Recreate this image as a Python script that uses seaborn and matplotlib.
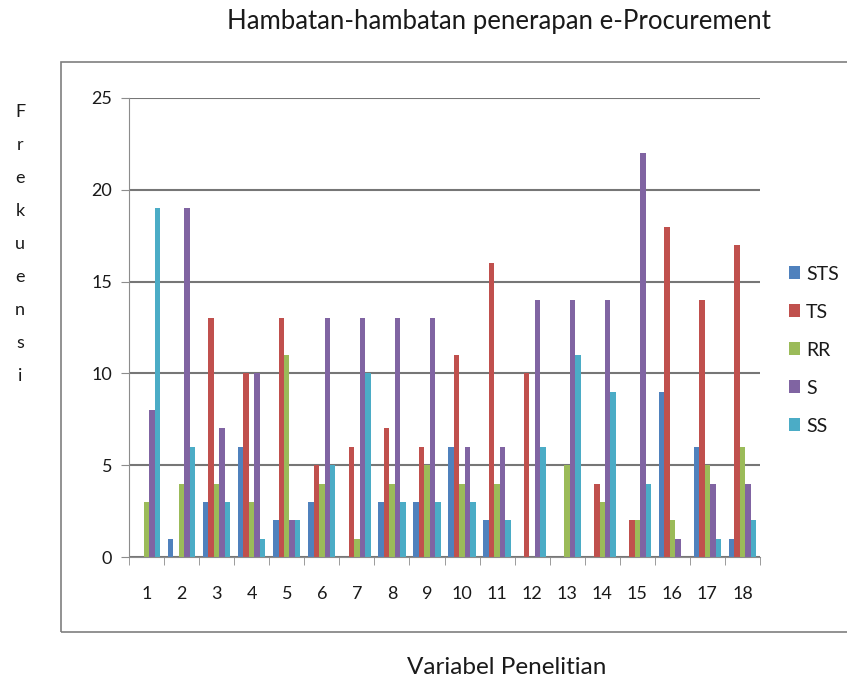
import matplotlib
matplotlib.use("Agg")
import matplotlib.pyplot as plt
import seaborn as sns
import pandas as pd
from matplotlib.patches import Rectangle

categories = [str(i) for i in range(1, 19)]
series = ["STS", "TS", "RR", "S", "SS"]
STS = [0, 1, 3, 6, 2, 3, 0, 3, 3, 6, 2, 0, 0, 0, 0, 9, 6, 1]
TS = [0, 0, 13, 10, 13, 5, 6, 7, 6, 11, 16, 10, 0, 4, 2, 18, 14, 17]
RR = [3, 4, 4, 3, 11, 4, 1, 4, 5, 4, 4, 0, 5, 3, 2, 2, 5, 6]
S = [8, 19, 7, 10, 2, 13, 13, 13, 13, 6, 6, 14, 14, 14, 22, 1, 4, 4]
SS = [19, 6, 3, 1, 2, 5, 10, 3, 3, 3, 2, 6, 11, 9, 4, 0, 1, 2]
yticks = [0, 5, 10, 15, 20, 25]

title = "Hambatan-hambatan penerapan e-Procurement"
xlabel = "Variabel Penelitian"
ylabel = "Frekuensi"

colors = ["#4F81BD", "#C0504D", "#9BBB59", "#8064A2", "#4BACC6"]

rows = []
for name, vals in zip(series, [STS, TS, RR, S, SS]):
    for c, v in zip(categories, vals):
        rows.append({"Variabel": c, "Kategori": name, "Frekuensi": v})
df = pd.DataFrame(rows)

sns.set_style("white")
plt.rcParams["font.family"] = ["Lato", "DejaVu Sans"]

fig = plt.figure(figsize=(8.47, 6.88), dpi=100)
W, H = 847, 688
ax = fig.add_axes([129 / W, 1 - 557 / H, 631 / W, 459 / H])

sns.barplot(data=df, x="Variabel", y="Frekuensi", hue="Kategori",
            order=categories, hue_order=series, palette=colors,
            width=0.78, gap=0, saturation=1, ax=ax, legend=True,
            edgecolor="none", errorbar=None)

ax.set_ylim(0, 25)
ax.set_xlim(-0.5, len(categories) - 0.5)
ax.set_yticks(yticks)
ax.set_yticklabels([str(t) for t in yticks])
ax.yaxis.grid(True, color="#767676", linewidth=1.5)
ax.set_axisbelow(True)
ax.set_xlabel("")
ax.set_ylabel("")
for s in ["top", "right"]:
    ax.spines[s].set_visible(False)
ax.spines["left"].set_color("#8c8c8c")
ax.spines["bottom"].set_color("#8c8c8c")
ax.tick_params(axis="x", length=0, labelsize=13, colors="#1a1a1a", pad=21)
ax.tick_params(axis="y", length=6, color="#8c8c8c", labelsize=13,
               colors="#1a1a1a", left=True, pad=6)
ax.set_xticks([i + 0.5 for i in range(-1, len(categories))], minor=True)
ax.tick_params(axis="x", which="minor", length=6, color="#8c8c8c", bottom=True)

leg = ax.legend(loc="upper left", bbox_to_anchor=(771 / W, 1 - 248 / H),
                bbox_transform=fig.transFigure, frameon=False,
                fontsize=14, handlelength=0.6, handleheight=0.6,
                labelspacing=1.08, handletextpad=0.3)
for t in leg.get_texts():
    t.set_color("#1a1a1a")

fig.patches.append(Rectangle((61 / W, 1 - 632 / H), (W - 58) / W, 570 / H,
                             transform=fig.transFigure, fill=False,
                             edgecolor="#7f7f7f", linewidth=1.2))

fig.text(499 / W, 1 - 22 / H, title, ha="center", va="center",
         fontsize=18.5, color="#1a1a1a")
fig.text(507 / W, 1 - 668 / H, xlabel, ha="center", va="center",
         fontsize=17.5, color="#1a1a1a")
for i, ch in enumerate(ylabel):
    fig.text(20 / W, 1 - (112 + i * 33) / H, ch, ha="center", va="center",
             fontsize=13, color="#1a1a1a")

fig.savefig("out.png", dpi=100)
